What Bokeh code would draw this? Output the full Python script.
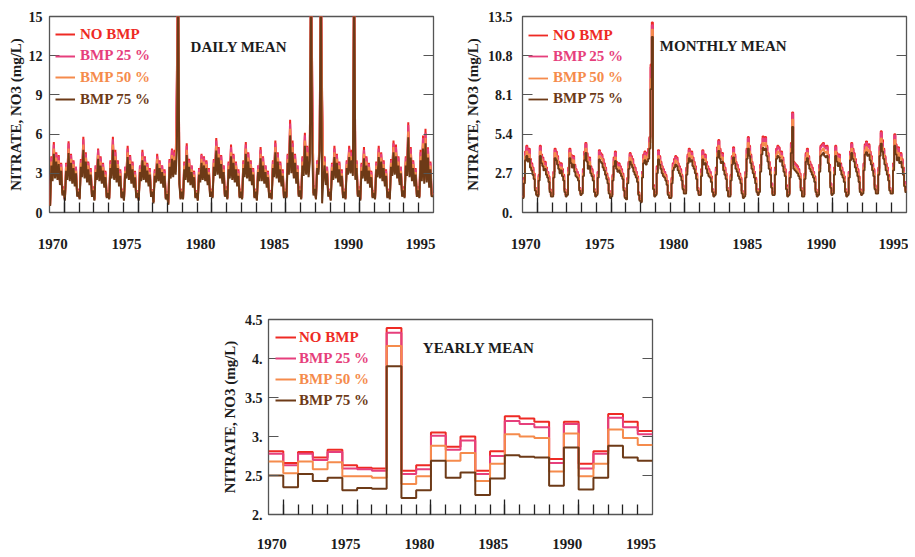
import numpy as np
from bokeh.plotting import figure
from bokeh.models import (Range1d, LinearAxis, FixedTicker, Legend, LegendItem, Label, Spacer,
                          CustomJSTickFormatter)
from bokeh.layouts import row, column
from bokeh.embed import file_html
from bokeh.resources import INLINE

FONT = "Liberation Serif"
SERIES = ["NO BMP", "BMP 25 %", "BMP 50 %", "BMP 75 %"]
COLORS = ["#ee2a24", "#e63f7c", "#f58b4c", "#6d3a17"]

years = list(range(1970, 1996))
year_label_text = ["1970", "1975", "1980", "1985", "1990", "1995"]

# ---------------- yearly means (one value per year) ----------------
yearly_no_bmp = [2.81, 2.66, 2.80, 2.73, 2.83, 2.63, 2.60, 2.59, 4.39, 2.56, 2.63, 3.05, 2.87,
                 3.00, 2.56, 2.81, 3.26, 3.23, 3.19, 2.71, 3.19, 2.65, 2.81, 3.29, 3.19, 3.07]
yearly_bmp25 = [2.78, 2.63, 2.78, 2.70, 2.80, 2.59, 2.58, 2.56, 4.33, 2.52, 2.58, 3.01, 2.83,
                2.95, 2.52, 2.75, 3.20, 3.16, 3.12, 2.66, 3.16, 2.59, 2.78, 3.24, 3.12, 3.03]
yearly_bmp50 = [2.68, 2.53, 2.68, 2.58, 2.67, 2.49, 2.49, 2.47, 4.16, 2.39, 2.49, 2.88, 2.69,
                2.79, 2.43, 2.65, 3.03, 3.00, 2.98, 2.55, 3.04, 2.49, 2.65, 3.09, 2.98, 2.89]
yearly_bmp75 = [2.50, 2.35, 2.52, 2.43, 2.47, 2.31, 2.34, 2.33, 3.90, 2.21, 2.31, 2.69, 2.47,
                2.54, 2.25, 2.46, 2.76, 2.74, 2.73, 2.37, 2.86, 2.32, 2.47, 2.88, 2.73, 2.69]

# ---------------- monthly means (12 per year, 1970-1995) ----------------
monthly_no_bmp = [
    1.1, 2.4, 4.2, 4.6, 4.1, 4.4, 3.7, 3.4, 3.1, 2.7, 1.7, 1.4,
    1.2, 2.6, 4.6, 4.0, 3.8, 3.4, 3.5, 3.1, 2.8, 2.5, 1.6, 1.2,
    1.2, 2.8, 4.4, 4.2, 3.9, 3.5, 3.2, 3.4, 3.0, 2.6, 1.6, 1.2,
    1.4, 3.1, 4.4, 4.0, 3.7, 3.9, 3.3, 3.0, 2.8, 2.6, 1.7, 1.4,
    1.5, 3.0, 4.2, 4.8, 4.1, 3.5, 3.8, 3.2, 3.0, 2.6, 1.6, 1.2,
    1.4, 2.8, 4.3, 4.1, 4.0, 3.7, 3.4, 3.1, 2.7, 2.4, 1.5, 1.1,
    1.2, 2.6, 3.8, 4.2, 3.5, 3.3, 3.4, 3.2, 3.0, 2.7, 1.7, 1.1,
    1.0, 2.4, 3.5, 4.1, 3.9, 3.7, 3.3, 3.1, 2.8, 2.5, 1.4, 0.9,
    0.8, 2.8, 4.0, 4.2, 3.9, 4.1, 4.4, 5.2, 10.2, 13.1, 1.9, 1.2,
    1.4, 3.2, 4.3, 3.9, 3.5, 3.2, 3.0, 2.8, 2.6, 2.2, 1.4, 1.1,
    1.1, 2.4, 3.4, 3.7, 3.9, 3.8, 3.4, 3.2, 3.0, 2.6, 1.9, 1.5,
    1.5, 3.1, 4.0, 4.4, 4.1, 4.2, 3.8, 3.5, 3.2, 2.7, 1.7, 1.4,
    1.4, 3.0, 4.3, 3.9, 4.0, 3.5, 3.2, 3.0, 2.8, 2.5, 1.6, 1.2,
    1.4, 3.1, 4.5, 5.0, 4.4, 4.0, 4.1, 3.4, 3.1, 2.7, 1.7, 1.2,
    1.2, 2.6, 3.9, 4.5, 4.0, 3.5, 3.3, 3.0, 2.7, 2.4, 1.5, 1.1,
    1.2, 2.8, 4.4, 5.2, 4.6, 4.0, 3.5, 3.2, 2.8, 2.4, 1.6, 1.4,
    1.6, 3.3, 4.7, 5.25, 5.1, 5.2, 4.6, 4.1, 3.5, 3.1, 2.0, 1.4,
    1.4, 3.1, 4.4, 4.6, 4.5, 4.1, 4.2, 3.8, 3.3, 3.0, 1.9, 1.2,
    1.4, 2.8, 4.8, 6.9, 3.5, 3.4, 3.3, 3.2, 3.0, 2.7, 1.7, 1.2,
    1.2, 2.7, 4.1, 4.4, 3.9, 3.5, 3.3, 3.1, 2.8, 2.5, 1.6, 1.2,
    1.4, 3.3, 4.6, 4.7, 4.8, 4.6, 4.5, 4.6, 4.0, 3.3, 2.0, 1.4,
    1.5, 3.1, 4.6, 4.1, 3.8, 4.0, 3.4, 3.1, 2.8, 2.5, 1.6, 1.2,
    1.4, 2.8, 4.2, 4.8, 4.4, 4.1, 3.7, 3.3, 3.0, 2.5, 1.6, 1.4,
    1.5, 3.4, 4.7, 4.9, 4.6, 4.7, 4.2, 3.9, 3.4, 3.0, 1.9, 1.5,
    1.5, 3.1, 4.6, 5.6, 5.0, 4.4, 3.9, 3.4, 3.1, 2.6, 1.7, 1.5,
    1.5, 3.4, 5.4, 4.7, 4.2, 4.5, 4.0, 4.1, 3.7, 3.1, 2.1, 1.6,
]
monthly_bmp25 = [
    1.1, 2.3, 4.1, 4.5, 4.0, 4.3, 3.6, 3.3, 3.0, 2.6, 1.7, 1.3,
    1.2, 2.5, 4.5, 3.9, 3.7, 3.3, 3.4, 3.0, 2.8, 2.4, 1.6, 1.2,
    1.2, 2.8, 4.3, 4.1, 3.8, 3.4, 3.1, 3.3, 2.9, 2.5, 1.6, 1.2,
    1.3, 3.0, 4.3, 3.9, 3.6, 3.8, 3.2, 2.9, 2.8, 2.5, 1.7, 1.3,
    1.5, 2.9, 4.1, 4.7, 4.0, 3.4, 3.7, 3.1, 2.9, 2.5, 1.6, 1.2,
    1.3, 2.8, 4.2, 4.0, 3.9, 3.6, 3.3, 3.0, 2.6, 2.3, 1.5, 1.1,
    1.2, 2.5, 3.7, 4.1, 3.4, 3.2, 3.3, 3.1, 2.9, 2.6, 1.7, 1.1,
    1.0, 2.3, 3.4, 4.0, 3.8, 3.6, 3.2, 3.0, 2.8, 2.4, 1.3, 0.9,
    0.8, 2.8, 3.9, 4.1, 3.8, 4.0, 4.3, 5.1, 10.0, 12.9, 1.8, 1.2,
    1.3, 3.1, 4.2, 3.8, 3.4, 3.1, 2.9, 2.8, 2.5, 2.2, 1.3, 1.1,
    1.1, 2.3, 3.3, 3.6, 3.8, 3.7, 3.3, 3.1, 2.9, 2.5, 1.8, 1.5,
    1.5, 3.0, 3.9, 4.3, 4.0, 4.1, 3.7, 3.4, 3.1, 2.6, 1.7, 1.3,
    1.3, 2.9, 4.2, 3.8, 3.9, 3.4, 3.1, 2.9, 2.8, 2.4, 1.6, 1.2,
    1.3, 3.0, 4.4, 4.9, 4.3, 3.9, 4.0, 3.3, 3.0, 2.6, 1.7, 1.2,
    1.2, 2.5, 3.8, 4.4, 3.9, 3.4, 3.2, 2.9, 2.6, 2.3, 1.5, 1.1,
    1.2, 2.8, 4.3, 5.1, 4.5, 3.9, 3.4, 3.1, 2.8, 2.3, 1.6, 1.3,
    1.6, 3.2, 4.6, 5.1, 4.9, 5.1, 4.5, 4.0, 3.4, 3.0, 2.0, 1.3,
    1.3, 3.0, 4.3, 4.5, 4.4, 4.0, 4.1, 3.7, 3.2, 2.9, 1.8, 1.2,
    1.3, 2.8, 4.7, 6.8, 3.4, 3.3, 3.2, 3.1, 2.9, 2.6, 1.7, 1.2,
    1.2, 2.6, 4.0, 4.3, 3.8, 3.4, 3.2, 3.0, 2.8, 2.4, 1.6, 1.2,
    1.3, 3.2, 4.5, 4.6, 4.7, 4.5, 4.4, 4.5, 3.9, 3.2, 2.0, 1.3,
    1.5, 3.0, 4.5, 4.0, 3.7, 3.9, 3.3, 3.0, 2.8, 2.4, 1.6, 1.2,
    1.3, 2.8, 4.1, 4.7, 4.3, 4.0, 3.6, 3.2, 2.9, 2.4, 1.6, 1.3,
    1.5, 3.3, 4.6, 4.8, 4.5, 4.6, 4.1, 3.8, 3.3, 2.9, 1.8, 1.5,
    1.5, 3.0, 4.5, 5.5, 4.8, 4.3, 3.8, 3.3, 3.0, 2.5, 1.7, 1.5,
    1.5, 3.3, 5.3, 4.6, 4.1, 4.4, 3.9, 4.0, 3.6, 3.0, 2.1, 1.6,
]
monthly_bmp50 = [
    1.1, 2.2, 3.9, 4.2, 3.8, 4.0, 3.3, 3.1, 2.8, 2.5, 1.6, 1.3,
    1.2, 2.4, 4.2, 3.7, 3.5, 3.1, 3.2, 2.8, 2.6, 2.3, 1.5, 1.2,
    1.2, 2.6, 4.1, 3.9, 3.6, 3.2, 2.9, 3.1, 2.7, 2.4, 1.5, 1.2,
    1.3, 2.8, 4.1, 3.7, 3.3, 3.6, 3.0, 2.7, 2.6, 2.4, 1.6, 1.3,
    1.4, 2.7, 3.9, 4.4, 3.8, 3.2, 3.5, 2.9, 2.7, 2.4, 1.5, 1.2,
    1.3, 2.6, 3.9, 3.8, 3.7, 3.3, 3.1, 2.8, 2.5, 2.2, 1.4, 1.1,
    1.2, 2.4, 3.5, 3.8, 3.2, 3.0, 3.1, 2.9, 2.7, 2.5, 1.6, 1.1,
    1.0, 2.2, 3.2, 3.8, 3.6, 3.3, 3.0, 2.8, 2.6, 2.3, 1.3, 0.9,
    0.8, 2.6, 3.7, 3.9, 3.6, 3.8, 4.0, 4.8, 9.2, 12.6, 1.7, 1.2,
    1.3, 2.9, 3.9, 3.6, 3.2, 2.9, 2.7, 2.6, 2.4, 2.1, 1.3, 1.1,
    1.1, 2.2, 3.1, 3.3, 3.6, 3.5, 3.1, 2.9, 2.7, 2.4, 1.7, 1.4,
    1.4, 2.8, 3.7, 4.1, 3.8, 3.9, 3.5, 3.2, 2.9, 2.5, 1.6, 1.3,
    1.3, 2.7, 3.9, 3.6, 3.7, 3.2, 2.9, 2.7, 2.6, 2.3, 1.5, 1.2,
    1.3, 2.8, 4.1, 4.6, 4.0, 3.7, 3.8, 3.1, 2.8, 2.5, 1.6, 1.2,
    1.2, 2.4, 3.6, 4.1, 3.7, 3.2, 3.0, 2.7, 2.5, 2.2, 1.4, 1.1,
    1.2, 2.6, 4.0, 4.8, 4.2, 3.7, 3.2, 2.9, 2.6, 2.2, 1.5, 1.3,
    1.5, 3.0, 4.3, 4.8, 4.6, 4.8, 4.2, 3.8, 3.2, 2.8, 1.8, 1.3,
    1.3, 2.8, 4.0, 4.2, 4.1, 3.8, 3.9, 3.5, 3.0, 2.7, 1.7, 1.2,
    1.3, 2.6, 4.4, 6.4, 3.2, 3.1, 3.0, 2.9, 2.7, 2.5, 1.6, 1.2,
    1.2, 2.5, 3.8, 4.1, 3.6, 3.2, 3.0, 2.8, 2.6, 2.3, 1.5, 1.2,
    1.3, 3.0, 4.2, 4.3, 4.4, 4.2, 4.1, 4.2, 3.7, 3.0, 1.8, 1.3,
    1.4, 2.8, 4.2, 3.8, 3.5, 3.7, 3.1, 2.8, 2.6, 2.3, 1.5, 1.2,
    1.3, 2.6, 3.9, 4.4, 4.0, 3.8, 3.3, 3.0, 2.7, 2.3, 1.5, 1.3,
    1.4, 3.1, 4.3, 4.5, 4.2, 4.3, 3.9, 3.6, 3.1, 2.7, 1.7, 1.4,
    1.4, 2.8, 4.2, 5.1, 4.5, 4.0, 3.6, 3.1, 2.8, 2.4, 1.6, 1.4,
    1.4, 3.1, 5.0, 4.3, 3.9, 4.1, 3.7, 3.8, 3.3, 2.8, 1.9, 1.5,
]
monthly_bmp75 = [
    1.0, 2.0, 3.6, 3.9, 3.5, 3.7, 3.1, 2.9, 2.6, 2.3, 1.5, 1.2,
    1.1, 2.2, 3.9, 3.4, 3.2, 2.9, 3.0, 2.6, 2.4, 2.1, 1.4, 1.1,
    1.1, 2.4, 3.75, 3.6, 3.3, 3.0, 2.7, 2.9, 2.5, 2.2, 1.4, 1.1,
    1.2, 2.6, 3.75, 3.4, 3.1, 3.3, 2.8, 2.5, 2.4, 2.2, 1.5, 1.2,
    1.3, 2.5, 3.6, 4.1, 3.5, 3.0, 3.2, 2.7, 2.5, 2.2, 1.4, 1.1,
    1.2, 2.4, 3.65, 3.5, 3.4, 3.1, 2.9, 2.6, 2.3, 2.0, 1.3, 1.0,
    1.1, 2.2, 3.2, 3.55, 3.0, 2.8, 2.9, 2.7, 2.5, 2.3, 1.5, 1.0,
    0.9, 2.0, 3.0, 3.5, 3.3, 3.1, 2.8, 2.6, 2.4, 2.1, 1.2, 0.8,
    0.7, 2.4, 3.4, 3.6, 3.3, 3.5, 3.7, 4.4, 8.5, 12.1, 1.6, 1.1,
    1.2, 2.7, 3.65, 3.3, 3.0, 2.7, 2.5, 2.4, 2.2, 1.9, 1.2, 1.0,
    1.0, 2.0, 2.9, 3.1, 3.3, 3.2, 2.9, 2.7, 2.5, 2.2, 1.6, 1.3,
    1.3, 2.6, 3.4, 3.75, 3.5, 3.6, 3.2, 3.0, 2.7, 2.3, 1.5, 1.2,
    1.2, 2.5, 3.65, 3.3, 3.4, 3.0, 2.7, 2.5, 2.4, 2.1, 1.4, 1.1,
    1.2, 2.6, 3.8, 4.25, 3.7, 3.4, 3.5, 2.9, 2.6, 2.3, 1.5, 1.1,
    1.1, 2.2, 3.3, 3.8, 3.4, 3.0, 2.8, 2.5, 2.3, 2.0, 1.3, 1.0,
    1.1, 2.4, 3.7, 4.4, 3.9, 3.4, 3.0, 2.7, 2.4, 2.0, 1.4, 1.2,
    1.4, 2.8, 4.0, 4.45, 4.3, 4.4, 3.9, 3.5, 3.0, 2.6, 1.7, 1.2,
    1.2, 2.6, 3.7, 3.9, 3.8, 3.5, 3.6, 3.2, 2.8, 2.5, 1.6, 1.1,
    1.2, 2.4, 4.1, 5.9, 3.0, 2.9, 2.8, 2.7, 2.5, 2.3, 1.5, 1.1,
    1.1, 2.3, 3.5, 3.75, 3.3, 3.0, 2.8, 2.6, 2.4, 2.1, 1.4, 1.1,
    1.2, 2.8, 3.9, 4.0, 4.1, 3.9, 3.8, 3.9, 3.4, 2.8, 1.7, 1.2,
    1.3, 2.6, 3.9, 3.5, 3.2, 3.4, 2.9, 2.6, 2.4, 2.1, 1.4, 1.1,
    1.2, 2.4, 3.6, 4.1, 3.7, 3.5, 3.1, 2.8, 2.5, 2.1, 1.4, 1.2,
    1.3, 2.9, 4.0, 4.15, 3.9, 4.0, 3.6, 3.3, 2.9, 2.5, 1.6, 1.3,
    1.3, 2.6, 3.9, 4.75, 4.2, 3.7, 3.3, 2.9, 2.6, 2.2, 1.5, 1.3,
    1.3, 2.9, 4.6, 4.0, 3.6, 3.8, 3.4, 3.5, 3.1, 2.6, 1.8, 1.4,
]

# ---------------- daily means (12 samples per year: alternating low/high days) ----------------
daily_no_bmp = [
    0.6, 4.3, 2.8, 5.4, 3.0, 4.6, 2.9, 4.4, 2.4, 3.8, 1.5, 2.0,
    1.0, 3.8, 2.9, 5.45, 2.8, 4.5, 2.6, 4.0, 2.3, 3.5, 1.4, 1.8,
    1.1, 4.1, 3.1, 5.8, 3.0, 4.6, 2.7, 3.9, 2.4, 3.4, 1.4, 2.0,
    1.0, 3.6, 2.9, 4.9, 2.8, 4.3, 2.6, 3.8, 2.2, 3.2, 1.2, 1.7,
    1.1, 4.0, 3.0, 5.8, 2.9, 4.8, 2.7, 4.0, 2.3, 3.3, 1.2, 1.8,
    1.0, 3.5, 3.0, 5.1, 2.9, 4.4, 2.6, 3.9, 2.2, 3.2, 1.2, 1.7,
    1.0, 3.6, 2.8, 4.8, 2.9, 4.3, 2.7, 3.8, 2.3, 3.4, 1.4, 1.8,
    0.8, 3.3, 2.7, 4.5, 2.8, 4.0, 2.6, 3.6, 2.2, 3.3, 1.1, 1.6,
    0.7, 4.1, 3.0, 4.9, 3.1, 4.8, 3.4, 10.5, 20.0, 2.6, 1.1, 1.8,
    1.1, 3.9, 2.9, 5.3, 2.7, 4.1, 2.4, 3.6, 2.2, 3.2, 1.2, 1.7,
    1.0, 3.4, 2.7, 4.5, 2.9, 4.3, 2.8, 4.0, 2.4, 3.4, 1.4, 1.8,
    1.2, 4.1, 3.3, 5.7, 3.4, 5.0, 3.0, 4.4, 2.6, 3.6, 1.4, 2.0,
    1.1, 3.9, 3.0, 5.2, 2.9, 4.5, 2.7, 3.9, 2.3, 3.3, 1.2, 1.8,
    1.1, 4.0, 3.1, 5.4, 3.0, 4.6, 2.8, 4.0, 2.4, 3.4, 1.2, 1.8,
    1.0, 3.6, 2.8, 5.0, 2.8, 4.3, 2.6, 3.6, 2.2, 3.2, 1.2, 1.7,
    1.1, 4.0, 3.1, 5.5, 3.0, 4.6, 2.7, 3.9, 2.3, 3.3, 1.2, 1.8,
    1.2, 4.5, 3.4, 7.1, 3.5, 5.5, 3.0, 4.5, 2.6, 3.6, 1.4, 2.0,
    1.1, 4.3, 3.3, 6.1, 3.4, 5.1, 3.1, 4.8, 20.0, 9.9, 1.5, 2.1,
    1.1, 4.0, 3.4, 5.7, 20.0, 8.9, 3.0, 4.3, 2.4, 3.5, 1.4, 1.8,
    1.0, 3.8, 2.9, 5.1, 3.0, 4.5, 2.7, 3.9, 2.3, 3.3, 1.2, 1.8,
    1.1, 4.0, 3.4, 5.1, 3.5, 4.8, 3.3, 20.0, 2.9, 4.0, 1.4, 2.0,
    1.0, 3.8, 3.0, 5.0, 2.8, 4.3, 2.6, 3.8, 2.2, 3.2, 1.2, 1.7,
    1.1, 3.9, 3.1, 5.1, 3.0, 4.6, 2.8, 4.0, 2.3, 3.3, 1.2, 1.8,
    1.1, 4.1, 3.3, 5.5, 3.4, 5.2, 3.0, 4.3, 2.4, 3.5, 1.4, 2.0,
    1.2, 4.3, 3.3, 6.9, 3.1, 5.0, 2.8, 4.0, 2.3, 3.4, 1.4, 2.0,
    1.2, 4.8, 2.8, 5.9, 2.6, 6.4, 2.7, 5.0, 2.2, 3.9, 1.4, 1.5,
]
daily_bmp25 = [
    0.6, 4.2, 2.8, 5.2, 3.0, 4.5, 2.9, 4.3, 2.4, 3.7, 1.5, 1.9,
    1.0, 3.7, 2.9, 5.3, 2.8, 4.4, 2.5, 3.9, 2.3, 3.5, 1.3, 1.8,
    1.1, 4.0, 3.1, 5.6, 3.0, 4.5, 2.6, 3.8, 2.4, 3.3, 1.3, 1.9,
    1.0, 3.6, 2.9, 4.8, 2.8, 4.2, 2.5, 3.7, 2.2, 3.1, 1.2, 1.7,
    1.1, 3.9, 3.0, 5.6, 2.9, 4.6, 2.6, 3.9, 2.3, 3.2, 1.2, 1.8,
    1.0, 3.5, 3.0, 4.9, 2.9, 4.3, 2.5, 3.8, 2.2, 3.1, 1.2, 1.7,
    1.0, 3.6, 2.8, 4.6, 2.9, 4.2, 2.6, 3.7, 2.3, 3.3, 1.3, 1.8,
    0.8, 3.2, 2.6, 4.3, 2.8, 3.9, 2.5, 3.6, 2.2, 3.2, 1.1, 1.6,
    0.7, 4.0, 3.0, 4.8, 3.1, 4.6, 3.3, 10.2, 20.0, 2.5, 1.1, 1.8,
    1.1, 3.8, 2.9, 5.1, 2.6, 4.0, 2.4, 3.6, 2.2, 3.1, 1.2, 1.7,
    1.0, 3.3, 2.6, 4.4, 2.9, 4.2, 2.8, 3.9, 2.4, 3.3, 1.3, 1.8,
    1.2, 4.0, 3.2, 5.5, 3.3, 4.9, 3.0, 4.3, 2.5, 3.6, 1.3, 1.9,
    1.1, 3.8, 3.0, 5.0, 2.9, 4.4, 2.6, 3.8, 2.3, 3.2, 1.2, 1.8,
    1.1, 3.9, 3.1, 5.2, 3.0, 4.5, 2.8, 3.9, 2.4, 3.3, 1.2, 1.8,
    1.0, 3.6, 2.8, 4.8, 2.8, 4.2, 2.5, 3.6, 2.2, 3.1, 1.2, 1.7,
    1.1, 3.9, 3.1, 5.3, 3.0, 4.5, 2.6, 3.8, 2.3, 3.2, 1.2, 1.8,
    1.2, 4.4, 3.3, 6.8, 3.5, 5.3, 3.0, 4.4, 2.5, 3.6, 1.3, 1.9,
    1.1, 4.2, 3.2, 5.9, 3.3, 5.0, 3.1, 4.6, 20.0, 9.6, 1.5, 2.1,
    1.1, 3.9, 3.3, 5.5, 20.0, 8.6, 3.0, 4.2, 2.4, 3.5, 1.3, 1.8,
    1.0, 3.7, 2.9, 4.9, 3.0, 4.4, 2.6, 3.8, 2.3, 3.2, 1.2, 1.8,
    1.1, 3.9, 3.3, 4.9, 3.5, 4.6, 3.2, 20.0, 2.9, 3.9, 1.3, 1.9,
    1.0, 3.7, 3.0, 4.8, 2.8, 4.2, 2.5, 3.7, 2.2, 3.1, 1.2, 1.7,
    1.1, 3.8, 3.1, 4.9, 3.0, 4.5, 2.8, 3.9, 2.3, 3.2, 1.2, 1.8,
    1.1, 4.0, 3.2, 5.3, 3.3, 5.0, 3.0, 4.2, 2.4, 3.5, 1.3, 1.9,
    1.2, 4.2, 3.2, 6.7, 3.1, 4.9, 2.8, 3.9, 2.3, 3.3, 1.3, 1.9,
    1.2, 4.6, 2.8, 5.7, 2.5, 6.1, 2.6, 4.9, 2.2, 3.8, 1.3, 1.5,
]
daily_bmp50 = [
    0.5, 3.9, 2.6, 4.9, 2.8, 4.2, 2.7, 4.0, 2.3, 3.5, 1.4, 1.8,
    1.0, 3.5, 2.7, 4.9, 2.6, 4.1, 2.4, 3.7, 2.2, 3.2, 1.3, 1.7,
    1.1, 3.8, 2.9, 5.2, 2.8, 4.2, 2.5, 3.6, 2.3, 3.1, 1.3, 1.8,
    1.0, 3.3, 2.7, 4.4, 2.6, 3.9, 2.4, 3.5, 2.1, 2.9, 1.2, 1.6,
    1.1, 3.7, 2.8, 5.2, 2.7, 4.3, 2.5, 3.7, 2.2, 3.0, 1.2, 1.7,
    1.0, 3.2, 2.8, 4.6, 2.7, 4.0, 2.4, 3.6, 2.1, 2.9, 1.2, 1.6,
    1.0, 3.3, 2.6, 4.3, 2.7, 3.9, 2.5, 3.5, 2.2, 3.1, 1.3, 1.7,
    0.8, 3.0, 2.5, 4.1, 2.6, 3.7, 2.4, 3.3, 2.1, 3.0, 1.1, 1.5,
    0.6, 3.8, 2.8, 4.4, 2.9, 4.3, 3.1, 8.0, 19.0, 2.4, 1.1, 1.7,
    1.1, 3.6, 2.7, 4.8, 2.5, 3.8, 2.3, 3.3, 2.1, 2.9, 1.2, 1.6,
    1.0, 3.1, 2.5, 4.1, 2.7, 3.9, 2.6, 3.7, 2.3, 3.1, 1.3, 1.7,
    1.2, 3.8, 3.0, 5.1, 3.1, 4.5, 2.8, 4.0, 2.4, 3.3, 1.3, 1.8,
    1.1, 3.6, 2.8, 4.6, 2.7, 4.1, 2.5, 3.6, 2.2, 3.0, 1.2, 1.7,
    1.1, 3.7, 2.9, 4.9, 2.8, 4.2, 2.6, 3.7, 2.3, 3.1, 1.2, 1.7,
    1.0, 3.3, 2.6, 4.5, 2.6, 3.9, 2.4, 3.3, 2.1, 2.9, 1.2, 1.6,
    1.1, 3.7, 2.9, 5.0, 2.8, 4.2, 2.5, 3.6, 2.2, 3.0, 1.2, 1.7,
    1.2, 4.1, 3.1, 6.4, 3.2, 5.0, 2.8, 4.1, 2.4, 3.3, 1.3, 1.8,
    1.1, 3.9, 3.0, 5.5, 3.1, 4.6, 2.9, 4.3, 19.0, 7.5, 1.4, 1.9,
    1.1, 3.7, 3.1, 5.1, 19.0, 7.8, 2.8, 3.9, 2.3, 3.2, 1.3, 1.7,
    1.0, 3.5, 2.7, 4.6, 2.8, 4.1, 2.5, 3.6, 2.2, 3.0, 1.2, 1.7,
    1.1, 3.7, 3.1, 4.6, 3.2, 4.3, 3.0, 19.0, 2.7, 3.7, 1.3, 1.8,
    1.0, 3.5, 2.8, 4.5, 2.6, 3.9, 2.4, 3.5, 2.1, 2.9, 1.2, 1.6,
    1.1, 3.6, 2.9, 4.6, 2.8, 4.2, 2.6, 3.7, 2.2, 3.0, 1.2, 1.7,
    1.1, 3.8, 3.0, 5.0, 3.1, 4.6, 2.8, 3.9, 2.3, 3.2, 1.3, 1.8,
    1.2, 3.9, 3.0, 6.2, 2.9, 4.5, 2.6, 3.7, 2.2, 3.1, 1.3, 1.8,
    1.2, 4.3, 2.6, 5.3, 2.4, 5.7, 2.5, 4.5, 2.1, 3.6, 1.3, 1.4,
]
daily_bmp75 = [
    0.5, 3.6, 2.4, 4.5, 2.6, 3.9, 2.5, 3.7, 2.1, 3.2, 1.3, 1.7,
    0.9, 3.2, 2.5, 4.55, 2.4, 3.8, 2.2, 3.4, 2.0, 3.0, 1.2, 1.6,
    1.0, 3.5, 2.7, 4.8, 2.6, 3.9, 2.3, 3.3, 2.1, 2.9, 1.2, 1.7,
    0.9, 3.1, 2.5, 4.1, 2.4, 3.6, 2.2, 3.2, 1.9, 2.7, 1.1, 1.5,
    1.0, 3.4, 2.6, 4.8, 2.5, 4.0, 2.3, 3.4, 2.0, 2.8, 1.1, 1.6,
    0.9, 3.0, 2.6, 4.25, 2.5, 3.7, 2.2, 3.3, 1.9, 2.7, 1.1, 1.5,
    0.9, 3.1, 2.4, 4.0, 2.5, 3.6, 2.3, 3.2, 2.0, 2.9, 1.2, 1.6,
    0.7, 2.8, 2.3, 3.75, 2.4, 3.4, 2.2, 3.1, 1.9, 2.8, 1.0, 1.4,
    0.6, 3.5, 2.6, 4.1, 2.7, 4.0, 2.9, 4.8, 18.0, 2.2, 1.0, 1.6,
    1.0, 3.3, 2.5, 4.4, 2.3, 3.5, 2.1, 3.1, 1.9, 2.7, 1.1, 1.5,
    0.9, 2.9, 2.3, 3.8, 2.5, 3.6, 2.4, 3.4, 2.1, 2.9, 1.2, 1.6,
    1.1, 3.5, 2.8, 4.75, 2.9, 4.2, 2.6, 3.7, 2.2, 3.1, 1.2, 1.7,
    1.0, 3.3, 2.6, 4.3, 2.5, 3.8, 2.3, 3.3, 2.0, 2.8, 1.1, 1.6,
    1.0, 3.4, 2.7, 4.5, 2.6, 3.9, 2.4, 3.4, 2.1, 2.9, 1.1, 1.6,
    0.9, 3.1, 2.4, 4.15, 2.4, 3.6, 2.2, 3.1, 1.9, 2.7, 1.1, 1.5,
    1.0, 3.4, 2.7, 4.6, 2.6, 3.9, 2.3, 3.3, 2.0, 2.8, 1.1, 1.6,
    1.1, 3.8, 2.9, 5.9, 3.0, 4.6, 2.6, 3.8, 2.2, 3.1, 1.2, 1.7,
    1.0, 3.6, 2.8, 5.1, 2.9, 4.3, 2.7, 4.0, 18.0, 4.5, 1.3, 1.8,
    1.0, 3.4, 2.9, 4.75, 18.0, 0.7, 2.6, 3.6, 2.1, 3.0, 1.2, 1.6,
    0.9, 3.2, 2.5, 4.25, 2.6, 3.8, 2.3, 3.3, 2.0, 2.8, 1.1, 1.6,
    1.0, 3.4, 2.9, 4.25, 3.0, 4.0, 2.8, 18.0, 2.5, 3.4, 1.2, 1.7,
    0.9, 3.2, 2.6, 4.15, 2.4, 3.6, 2.2, 3.2, 1.9, 2.7, 1.1, 1.5,
    1.0, 3.3, 2.7, 4.25, 2.6, 3.9, 2.4, 3.4, 2.0, 2.8, 1.1, 1.6,
    1.0, 3.5, 2.8, 4.6, 2.9, 4.3, 2.6, 3.6, 2.1, 3.0, 1.2, 1.7,
    1.1, 3.6, 2.8, 5.75, 2.7, 4.2, 2.4, 3.4, 2.0, 2.9, 1.2, 1.7,
    1.1, 4.0, 2.4, 4.9, 2.2, 5.3, 2.3, 4.2, 1.9, 3.3, 1.2, 1.3,
]

YTITLE = "NITRATE, NO3 (mg/L)"
INK = "#1c1c1c"
DOT_FMT = "return (tick % 1 === 0) ? tick.toFixed(0) + '.' : tick.toFixed(1);"


def make_panel(y_start, y_end, y_ticks, dotted, frame_h, b_left, b_top, b_bottom, b_right,
               lab_stand, title_stand, xlab_pos, xlab_stand):
    p = figure(frame_width=384, frame_height=frame_h,
               x_range=Range1d(1970, 1996), y_range=Range1d(y_start, y_end),
               x_axis_location=None, y_axis_location=None,
               output_backend="svg", toolbar_location=None,
               min_border_left=b_left, min_border_right=b_right,
               min_border_top=b_top, min_border_bottom=b_bottom)
    p.xgrid.visible = False
    p.ygrid.visible = False
    p.outline_line_color = "#555555"
    p.outline_line_width = 1.3

    yt = FixedTicker(ticks=y_ticks)
    left = LinearAxis(ticker=yt, axis_label=YTITLE)
    if dotted:
        left.formatter = CustomJSTickFormatter(code=DOT_FMT)
    left.axis_line_color = None
    left.major_tick_in = 10
    left.major_tick_out = 0
    left.major_tick_line_color = "#555555"
    left.major_label_standoff = lab_stand
    left.axis_label_standoff = title_stand
    left.major_label_text_font = FONT
    left.major_label_text_font_style = "bold"
    left.major_label_text_font_size = "14px"
    left.major_label_text_color = INK
    left.axis_label_text_font = FONT
    left.axis_label_text_font_style = "bold"
    left.axis_label_text_font_size = "15px"
    left.axis_label_text_color = INK
    p.add_layout(left, "left")

    right = LinearAxis(ticker=yt, major_label_overrides={t: "" for t in y_ticks})
    right.axis_line_color = None
    right.major_tick_in = 10
    right.major_tick_out = 0
    right.major_tick_line_color = "#555555"
    right.major_label_standoff = 0
    right.major_label_text_font_size = "1px"
    p.add_layout(right, "right")

    tick_ax = LinearAxis(ticker=FixedTicker(ticks=[1971, 1976, 1981, 1986, 1991],
                                            minor_ticks=years[1:]),
                         major_label_overrides={t: "" for t in [1971, 1976, 1981, 1986, 1991]})
    tick_ax.axis_line_color = None
    tick_ax.major_tick_in = 15
    tick_ax.major_tick_out = 0
    tick_ax.minor_tick_in = 10
    tick_ax.minor_tick_out = 0
    tick_ax.major_tick_line_color = "#222222"
    tick_ax.minor_tick_line_color = "#222222"
    tick_ax.major_tick_line_width = 1.3
    tick_ax.minor_tick_line_width = 1.3
    tick_ax.major_label_standoff = 0
    tick_ax.major_label_text_font_size = "1px"
    p.add_layout(tick_ax, "below")

    lab_ax = LinearAxis(ticker=FixedTicker(ticks=xlab_pos),
                        major_label_overrides=dict(zip(xlab_pos, year_label_text)))
    lab_ax.axis_line_color = None
    lab_ax.major_tick_in = 0
    lab_ax.major_tick_out = 0
    lab_ax.major_label_standoff = xlab_stand
    lab_ax.major_label_text_font = FONT
    lab_ax.major_label_text_font_style = "bold"
    lab_ax.major_label_text_font_size = "15px"
    lab_ax.major_label_text_color = INK
    p.add_layout(lab_ax, "below")
    return p


def add_legends(p, renderers, frame_h, x0, c0, step, gw, stand):
    for i, (r, name, col) in enumerate(zip(renderers, SERIES, COLORS)):
        c = c0 + step * i
        lg = Legend(items=[LegendItem(label=name, renderers=[r])],
                    location=(x0, frame_h - c - 9), padding=0, margin=0, spacing=0,
                    glyph_width=gw, glyph_height=18, label_height=18, label_standoff=stand,
                    label_text_font=FONT, label_text_font_style="bold",
                    label_text_font_size="15px", label_text_color=col,
                    background_fill_alpha=0, border_line_color=None)
        p.add_layout(lg)


def add_title(p, x, y, text):
    p.add_layout(Label(x=x, y=y, text=text, text_font=FONT, text_font_style="bold",
                       text_font_size="15px", text_baseline="middle", text_color=INK))


lab_pos_std = [1970.22, 1975.22, 1980.22, 1985.22, 1990.22, 1995.22]

# ---- daily panel ----
p_daily = make_panel(0, 15, [0, 3, 6, 9, 12, 15], False, 196,
                     49, 15, 45, 5, 7, 2, [1970.22, 1975.22, 1980.22, 1985.22, 1990.22, 1995.12], 26)
x_daily = 1970 + (np.arange(len(daily_bmp75)) + 0.5) / 12.0
rd = []
for ys, col in zip([daily_no_bmp, daily_bmp25, daily_bmp50, daily_bmp75], COLORS):
    rd.append(p_daily.line(x_daily, ys, line_color=col, line_width=2))
add_legends(p_daily, rd, 196, 6, 18, 21.7, 20, 5)
add_title(p_daily, 1979.55, 12.7, "DAILY MEAN")

# ---- monthly panel ----
p_monthly = make_panel(0, 13.5, [0, 2.7, 5.4, 8.1, 10.8, 13.5], True, 196,
                       84, 16, 44, 2, 10, 4, lab_pos_std, 26)
x_month = list(1970 + np.arange(len(monthly_bmp75)) / 12.0) + [1996.0]
rm = []
for ys, col in zip([monthly_no_bmp, monthly_bmp25, monthly_bmp50, monthly_bmp75], COLORS):
    rm.append(p_monthly.step(x_month, list(ys) + [ys[-1]], mode="after", line_color=col, line_width=1.8))
add_legends(p_monthly, rm, 196, 6, 19, 21.3, 20, 5)
add_title(p_monthly, 1979.3, 11.5, "MONTHLY MEAN")

# ---- yearly panel ----
p_yearly = make_panel(2, 4.5, [2, 2.5, 3, 3.5, 4, 4.5], True, 195,
                      60, 63, 43, 5, 6, 4, lab_pos_std, 24)
x_year = years + [1996]
ry = []
for ys, col in zip([yearly_no_bmp, yearly_bmp25, yearly_bmp50, yearly_bmp75], COLORS):
    ry.append(p_yearly.step(x_year, list(ys) + [ys[-1]], mode="after", line_color=col, line_width=2))
add_legends(p_yearly, ry, 195, 7, 18, 21, 21, 3)
add_title(p_yearly, 1980.45, 4.14, "YEARLY MEAN")

layout = column(row(p_daily, p_monthly), row(Spacer(width=208), p_yearly))

open("out.html", "w").write(file_html(layout, INLINE))
